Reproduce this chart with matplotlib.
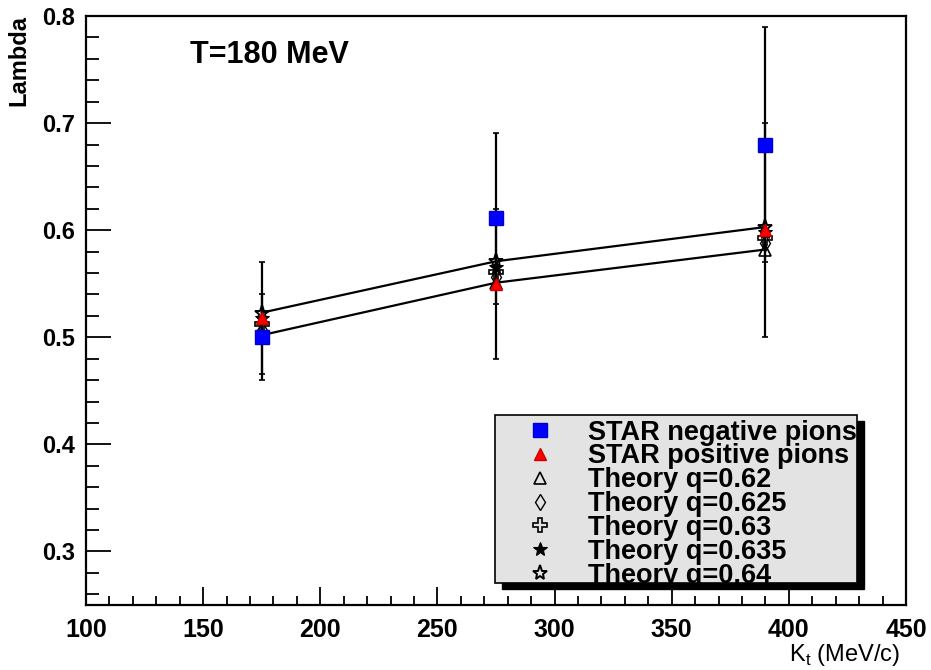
import matplotlib
matplotlib.use('Agg')
import numpy as np
import matplotlib.pyplot as plt
from matplotlib.ticker import MultipleLocator, FormatStrFormatter
from matplotlib.patches import Rectangle

# transverse momentum bins (MeV/c)
kt = [175, 275, 390]

# STAR data with errors
neg_lambda = [0.50, 0.611, 0.68]
neg_err = [0.04, 0.08, 0.11]
pos_lambda = [0.518, 0.55, 0.60]
pos_err = [0.052, 0.07, 0.10]

# model curves for several q values
q_values = ['0.62', '0.625', '0.63', '0.635', '0.64']
theory = [
    [0.502, 0.551, 0.582],
    [0.507, 0.556, 0.588],
    [0.512, 0.561, 0.593],
    [0.518, 0.566, 0.598],
    [0.523, 0.571, 0.603],
]

plt.rcParams['font.family'] = ['Liberation Sans', 'DejaVu Sans']
plt.rcParams['font.weight'] = 'bold'

fig = plt.figure(figsize=(9.31, 6.70), dpi=100)
ax = fig.add_axes([0.0924, 0.097, 0.8807, 0.879])

# lines through the extreme q curves
ax.plot(kt, theory[0], color='black', lw=1.6, zorder=2)
ax.plot(kt, theory[-1], color='black', lw=1.6, zorder=2)

ax.errorbar(kt, neg_lambda, yerr=neg_err, fmt='none', ecolor='black',
            elinewidth=1.6, capsize=2.5, capthick=1.2, zorder=3)
ax.errorbar(kt, pos_lambda, yerr=pos_err, fmt='none', ecolor='black',
            elinewidth=1.6, capsize=2.5, capthick=1.2, zorder=3)

h_neg, = ax.plot(kt, neg_lambda, 's', color='#0000ff', ms=9.5, mec='#0000cc',
                 ls='none', zorder=5)
h_pos, = ax.plot(kt, pos_lambda, '^', color='#ff0000', ms=9, mec='#cc0000',
                 ls='none', zorder=5)

styles = [
    dict(marker='^', mfc='none', mec='black', ms=9, mew=1.2),
    dict(marker='d', mfc='none', mec='black', ms=8, mew=1.0),
    dict(marker='P', mfc='none', mec='black', ms=10, mew=1.2),
    dict(marker='*', mfc='black', mec='black', ms=10, mew=0.8),
    dict(marker='*', mfc='none', mec='black', ms=11, mew=1.4),
]
handles = [h_neg, h_pos]
for vals, st in zip(theory, styles):
    h, = ax.plot(kt, vals, ls='none', zorder=4, **st)
    handles.append(h)

labels = ['STAR negative pions', 'STAR positive pions'] + \
    ['Theory q=' + q for q in q_values]

ax.set_xlim(100, 450)
ax.set_ylim(0.25, 0.8)
ax.xaxis.set_major_locator(MultipleLocator(50))
ax.xaxis.set_minor_locator(MultipleLocator(10))
ax.yaxis.set_major_locator(MultipleLocator(0.1))
ax.yaxis.set_minor_locator(MultipleLocator(0.02))
ax.tick_params(axis='both', which='both', direction='in', top=False, right=False,
               labelsize=17, width=1.3)
ax.tick_params(axis='x', which='major', length=13, pad=9, labelsize=18)
ax.tick_params(axis='x', which='minor', length=6.5)
ax.tick_params(axis='y', which='major', length=18, pad=8)
ax.tick_params(axis='y', which='minor', length=9)
ax.yaxis.set_major_formatter(FormatStrFormatter('%.1f'))
for sp in ax.spines.values():
    sp.set_linewidth(1.6)

fig.text(0.204, 0.918, 'T=180 MeV', fontsize=22, fontweight='bold',
         ha='left', va='center')
fig.text(0.02, 0.977, 'Lambda', rotation=90, fontsize=17, fontweight='bold',
         ha='center', va='top')
fig.text(0.967, 0.003, r'K$_{\mathregular{t}}$ (MeV/c)', fontsize=17,
         fontweight='normal', ha='right', va='bottom')

# legend box with drop shadow
bx0, by0, bw, bh = 0.532, 0.130, 0.389, 0.250
fig.patches.append(Rectangle((bx0 + 0.007, by0 - 0.009), bw, bh, transform=fig.transFigure,
                             facecolor='black', edgecolor='black', zorder=8))
fig.patches.append(Rectangle((bx0, by0), bw, bh, transform=fig.transFigure,
                             facecolor='#e3e3e3', edgecolor='black', lw=1.2, zorder=9))
leg = fig.legend(handles, labels, loc='upper left', bbox_to_anchor=(bx0 - 0.001, by0 + bh + 0.022),
                 frameon=False, fontsize=19.5, handlelength=2.0, handletextpad=0.75,
                 labelspacing=-0.08, borderpad=0.2, numpoints=1)
leg.set_zorder(10)

fig.savefig('out.png', dpi=100)
